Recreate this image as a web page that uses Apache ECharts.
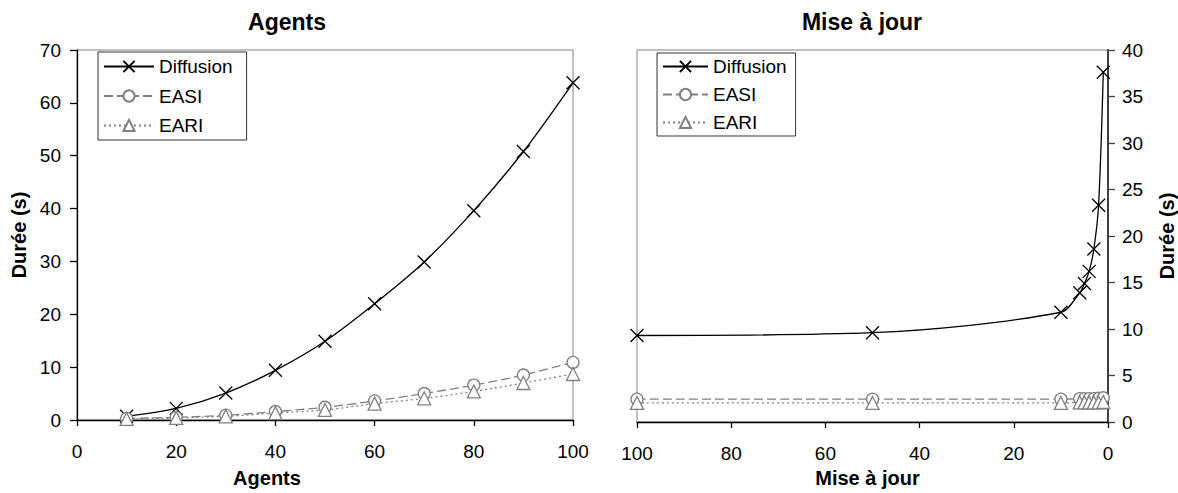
<!DOCTYPE html>
<html>
<head>
<meta charset="utf-8">
<title>Durée</title>
<script src="https://cdn.jsdelivr.net/npm/echarts@6/dist/echarts.min.js"></script>
<style>
  html, body { margin: 0; padding: 0; background: #fff; }
  #chart { width: 1178px; height: 493px; }
</style>
</head>
<body>
<div id="chart"></div>
<script>
// Left panel: duration vs number of agents
const agentsX = [10, 20, 30, 40, 50, 60, 70, 80, 90, 100];
const agentsDiffusion = [0.7, 2.2, 5.1, 9.4, 14.9, 22.0, 29.9, 39.6, 50.8, 63.8];
const agentsEASI = [0.3, 0.5, 0.9, 1.6, 2.4, 3.6, 5.0, 6.6, 8.5, 10.9];
const agentsEARI = [0.2, 0.4, 0.7, 1.3, 1.9, 3.1, 4.1, 5.4, 7.0, 8.7];

// Right panel: duration vs update period
const updateX = [100, 50, 10, 6, 5, 4, 3, 2, 1];
const updateDiffusion = [9.3, 9.6, 11.8, 13.9, 14.9, 16.2, 18.6, 23.3, 37.6];
const updateEASI = [2.45, 2.45, 2.45, 2.5, 2.5, 2.5, 2.5, 2.55, 2.6];
const updateEARI = [2.05, 2.05, 2.05, 2.1, 2.1, 2.1, 2.1, 2.1, 2.15];

const seriesNames = ['Diffusion', 'EASI', 'EARI'];
const titles = ['Agents', 'Mise à jour'];
const axisNames = { agents: 'Agents', update: 'Mise à jour', duration: 'Durée (s)' };

const FONT = "'Liberation Sans', Arial, sans-serif";
const CROSS = 'path://M0,0L10,10M10,0L0,10';

const pairs = (xs, ys) => xs.map((x, i) => [x, ys[i]]);

function styleFor(name) {
  if (name === 'Diffusion') {
    return {
      symbol: CROSS, symbolSize: 13,
      itemStyle: { color: 'transparent', borderColor: '#000', borderWidth: 1.3 },
      lineStyle: { color: '#000', width: 1.3, type: 'solid' }
    };
  }
  if (name === 'EASI') {
    return {
      symbol: 'circle', symbolSize: 12,
      itemStyle: { color: '#fff', borderColor: '#808080', borderWidth: 1.3 },
      lineStyle: { color: '#808080', width: 1.3, type: [9, 4] }
    };
  }
  return {
    symbol: 'triangle', symbolSize: 13,
    itemStyle: { color: '#fff', borderColor: '#808080', borderWidth: 1.3 },
    lineStyle: { color: '#808080', width: 1.3, type: [2, 3] }
  };
}

function makeSeries(name, data, idx) {
  return Object.assign({
    name: name, type: 'line', data: data,
    xAxisIndex: idx, yAxisIndex: idx,
    smooth: 0.3, showAllSymbol: true, animation: false,
    emphasis: { disabled: true }
  }, styleFor(name));
}

const tickLabel = { color: '#000', fontSize: 19, fontFamily: FONT };
const nameStyle = { color: '#000', fontSize: 20, fontWeight: 'bold', fontFamily: FONT };
const legendText = { color: '#000', fontSize: 19, fontFamily: FONT };

const chart = echarts.init(document.getElementById('chart'), null, { renderer: 'svg' });

chart.setOption({
  backgroundColor: '#fff',
  animation: false,
  textStyle: { fontFamily: FONT },
  graphic: [
    { type: 'text', x: 287, y: 22, style: { text: titles[0], font: 'bold 23px ' + FONT, fill: '#000', textAlign: 'center', textVerticalAlign: 'middle' } },
    { type: 'text', x: 862, y: 22, style: { text: titles[1], font: 'bold 23px ' + FONT, fill: '#000', textAlign: 'center', textVerticalAlign: 'middle' } }
  ],
  legend: [
    {
      data: seriesNames, orient: 'vertical', left: 98, top: 52,
      itemWidth: 50, itemHeight: 14, itemGap: 10.5,
      padding: [5, 14, 5, 5],
      borderColor: '#333', borderWidth: 1, backgroundColor: '#fff',
      textStyle: legendText,
      selectedMode: false
    },
    {
      data: seriesNames, orient: 'vertical', left: 657, top: 53,
      itemWidth: 45, itemHeight: 14, itemGap: 9,
      padding: [4, 9, 4, 5],
      borderColor: '#333', borderWidth: 1, backgroundColor: '#fff',
      textStyle: legendText,
      selectedMode: false
    }
  ],
  grid: [
    { left: 77, top: 50, width: 496, height: 373, show: true, borderColor: '#808080', borderWidth: 1, containLabel: false },
    { left: 637, top: 50, width: 472, height: 374, show: true, borderColor: '#808080', borderWidth: 1, containLabel: false }
  ],
  xAxis: [
    {
      gridIndex: 0, type: 'value', min: 0, max: 100, interval: 20,
      name: axisNames.agents, nameLocation: 'middle', nameGap: 48,
      nameTextStyle: Object.assign({ padding: [0, 116, 0, 0] }, nameStyle),
      axisLine: { show: true, onZero: false, lineStyle: { color: '#000', width: 1.3 } },
      axisTick: { show: true, inside: false, length: 6, lineStyle: { color: '#000', width: 1.3 } },
      axisLabel: Object.assign({ margin: 22 }, tickLabel),
      splitLine: { show: false }
    },
    {
      gridIndex: 1, type: 'value', min: 0, max: 100, interval: 20, inverse: true,
      name: axisNames.update, nameLocation: 'middle', nameGap: 46,
      nameTextStyle: Object.assign({ padding: [0, 10, 0, 0] }, nameStyle),
      axisLine: { show: true, onZero: false, lineStyle: { color: '#000', width: 1.3 } },
      axisTick: { show: true, inside: false, length: 6, lineStyle: { color: '#000', width: 1.3 } },
      axisLabel: Object.assign({ margin: 22 }, tickLabel),
      splitLine: { show: false }
    }
  ],
  yAxis: [
    {
      gridIndex: 0, type: 'value', min: 0, max: 70, interval: 10,
      name: axisNames.duration, nameLocation: 'middle', nameGap: 48,
      nameTextStyle: nameStyle,
      axisLine: { show: true, onZero: false, lineStyle: { color: '#000', width: 1.3 } },
      axisTick: { show: true, inside: false, length: 7, lineStyle: { color: '#000', width: 1.3 } },
      axisLabel: Object.assign({ margin: 16 }, tickLabel),
      splitLine: { show: false }
    },
    {
      gridIndex: 1, type: 'value', min: 0, max: 40, interval: 5, position: 'right',
      name: axisNames.duration, nameLocation: 'middle', nameGap: 49, nameRotate: 90,
      nameTextStyle: nameStyle,
      axisLine: { show: true, onZero: false, lineStyle: { color: '#404040', width: 2 } },
      axisTick: { show: true, inside: false, length: 7, lineStyle: { color: '#404040', width: 1.3 } },
      axisLabel: Object.assign({ margin: 14 }, tickLabel),
      splitLine: { show: false }
    }
  ],
  series: [
    makeSeries('Diffusion', pairs(agentsX, agentsDiffusion), 0),
    makeSeries('EASI', pairs(agentsX, agentsEASI), 0),
    makeSeries('EARI', pairs(agentsX, agentsEARI), 0),
    makeSeries('Diffusion', pairs(updateX, updateDiffusion), 1),
    makeSeries('EASI', pairs(updateX, updateEASI), 1),
    makeSeries('EARI', pairs(updateX, updateEARI), 1)
  ]
});
</script>
</body>
</html>
